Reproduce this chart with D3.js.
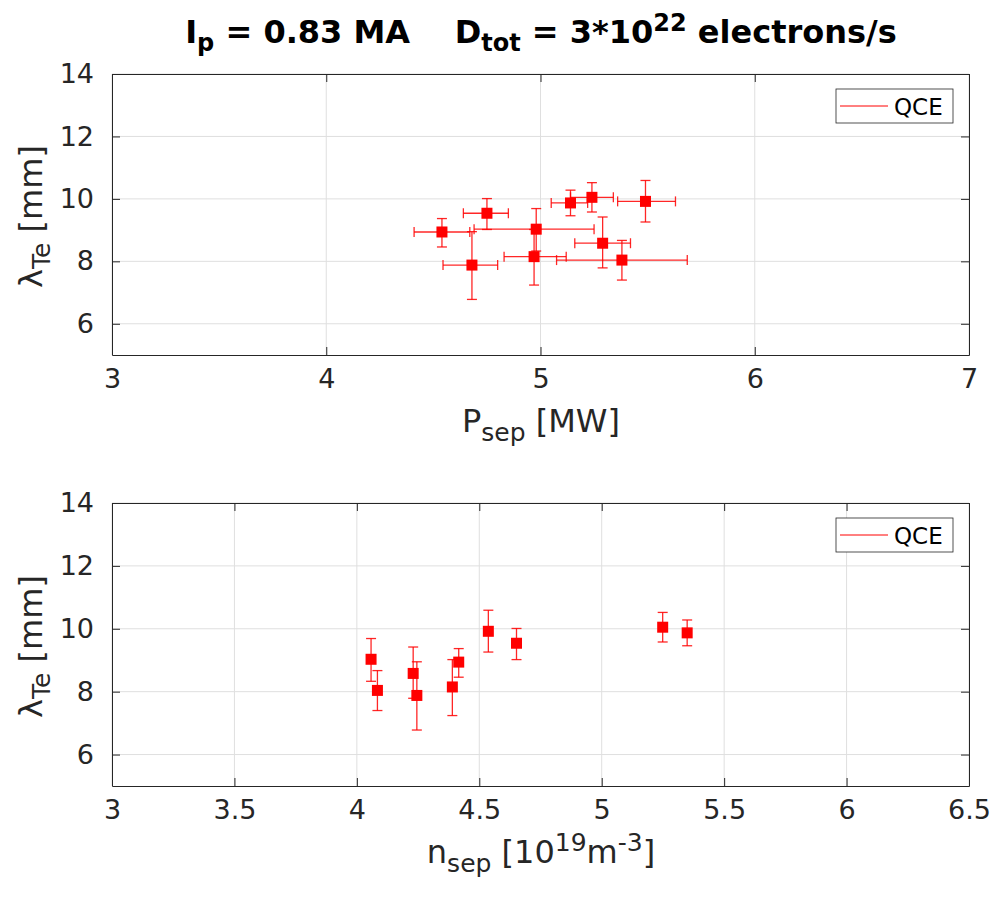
<!DOCTYPE html>
<html>
<head>
<meta charset="utf-8">
<script src="https://cdn.jsdelivr.net/npm/d3@7"></script>
<style>
  body { margin: 0; background: #fff; }
  svg { font-family: "DejaVu Sans", sans-serif; }
  .pre { white-space: pre; }
</style>
</head>
<body>
<div id="chart"></div>
<script>
// 1: DATA
const lamTe  = [8.94, 9.54, 9.03, 8.15, 7.88, 9.87, 10.05, 9.92, 8.58, 8.04];
const lamLo  = [8.46, 9.02, 8.33, 7.24, 6.78, 9.46, 9.58, 9.26, 7.79, 7.40];
const lamHi  = [9.37, 10.01, 9.69, 9.02, 8.95, 10.28, 10.52, 10.59, 9.42, 8.67];
const pSep   = [4.54, 4.75, 4.98, 4.97, 4.68, 5.14, 5.24, 5.49, 5.29, 5.38];
const pSepLo = [4.41, 4.64, 4.69, 4.83, 4.545, 5.05, 5.14, 5.36, 5.16, 5.075];
const pSepHi = [4.67, 4.85, 5.25, 5.12, 4.80, 5.22, 5.34, 5.63, 5.42, 5.685];
const nSep   = [4.416, 4.652, 4.058, 4.39, 4.245, 5.349, 5.249, 4.537, 4.230, 4.084];

const yTicks = [6, 8, 10, 12, 14];
const xTicksTop = [3, 4, 5, 6, 7];
const xTicksBot = [3, 3.5, 4, 4.5, 5, 5.5, 6, 6.5];
const seriesName = "QCE";

// 2: SVG
const W = 1000, H = 899;
const svg = d3.select("#chart").append("svg")
    .attr("width", W).attr("height", H);

const axisCol = "#262626", gridCol = "#dfdfdf", red = "#ff0000";
const labFs = 32, subFs = 25;

// title
const title = svg.append("text")
    .attr("class", "pre")
    .attr("x", 541).attr("y", 43)
    .attr("text-anchor", "middle")
    .style("font-weight", "bold").style("font-size", "32px")
    .attr("fill", "#000");
title.append("tspan").text("I");
title.append("tspan").attr("dy", 8).style("font-size", "24px").text("p");
title.append("tspan").attr("dy", -8).text(" = 0.83 MA    D");
title.append("tspan").attr("dy", 8).style("font-size", "24px").text("tot");
title.append("tspan").attr("dy", -8).text(" = 3*10");
title.append("tspan").attr("dy", -12).style("font-size", "24px").text("22");
title.append("tspan").attr("dy", 12).text(" electrons/s");

function drawPanel(cfg) {
    const x = d3.scaleLinear().domain(cfg.xDomain).range([112, 969]);
    const y = d3.scaleLinear().domain([5, 14]).range([cfg.bottom, cfg.top]);
    const g = svg.append("g");

    // grid
    g.selectAll(".gx").data(cfg.xTicks).enter().append("line")
        .attr("x1", d => x(d)).attr("x2", d => x(d))
        .attr("y1", cfg.top).attr("y2", cfg.bottom)
        .attr("stroke", gridCol).attr("stroke-width", 1);
    g.selectAll(".gy").data(yTicks).enter().append("line")
        .attr("x1", 112).attr("x2", 969)
        .attr("y1", d => y(d)).attr("y2", d => y(d))
        .attr("stroke", gridCol).attr("stroke-width", 1);

    // axes (box on, inward ticks)
    const tl = 8;
    g.append("g").attr("transform", `translate(0,${cfg.bottom})`)
        .call(d3.axisBottom(x).tickValues(cfg.xTicks).tickSizeInner(-tl).tickSizeOuter(0)
            .tickFormat(d3.format("")).tickPadding(14))
        .call(a => styleAxis(a));
    g.append("g").attr("transform", `translate(0,${cfg.top})`)
        .call(d3.axisTop(x).tickValues(cfg.xTicks).tickSizeInner(-tl).tickSizeOuter(0).tickFormat(""))
        .call(a => styleAxis(a));
    g.append("g").attr("transform", "translate(112,0)")
        .call(d3.axisLeft(y).tickValues(yTicks).tickSizeInner(-tl).tickSizeOuter(0).tickPadding(18))
        .call(a => styleAxis(a));
    g.append("g").attr("transform", "translate(969,0)")
        .call(d3.axisRight(y).tickValues(yTicks).tickSizeInner(-tl).tickSizeOuter(0).tickFormat(""))
        .call(a => styleAxis(a));

    // error bars
    const cap = 5;
    const idx = d3.range(lamTe.length);
    const eb = g.append("g").attr("stroke", red).attr("stroke-width", 1.3).attr("stroke-opacity", 0.85);
    idx.forEach(i => {
        const cx = x(cfg.xs[i]), cy = y(lamTe[i]);
        eb.append("line").attr("x1", cx).attr("x2", cx).attr("y1", y(lamLo[i])).attr("y2", y(lamHi[i]));
        [lamLo[i], lamHi[i]].forEach(v => eb.append("line")
            .attr("x1", cx - cap).attr("x2", cx + cap).attr("y1", y(v)).attr("y2", y(v)));
        if (cfg.xLo) {
            eb.append("line").attr("x1", x(cfg.xLo[i])).attr("x2", x(cfg.xHi[i])).attr("y1", cy).attr("y2", cy);
            [cfg.xLo[i], cfg.xHi[i]].forEach(v => eb.append("line")
                .attr("x1", x(v)).attr("x2", x(v)).attr("y1", cy - cap).attr("y2", cy + cap));
        }
    });

    // markers
    const ms = 11;
    g.selectAll(".mk").data(idx).enter().append("rect")
        .attr("x", i => x(cfg.xs[i]) - ms / 2)
        .attr("y", i => y(lamTe[i]) - ms / 2)
        .attr("width", ms).attr("height", ms)
        .attr("fill", red);

    // y label
    const yl = g.append("text")
        .attr("class", "pre")
        .attr("transform", `translate(42,${(cfg.top + cfg.bottom) / 2 + 2}) rotate(-90)`)
        .attr("text-anchor", "middle").style("font-size", labFs + "px").attr("fill", axisCol);
    yl.append("tspan").text("λ");
    yl.append("tspan").attr("dy", 8).style("font-size", subFs + "px").text("Te");
    yl.append("tspan").attr("dy", -8).text(" [mm]");

    // x label
    const xl = g.append("text")
        .attr("class", "pre")
        .attr("x", 541).attr("y", cfg.bottom + 77)
        .attr("text-anchor", "middle").style("font-size", labFs + "px").attr("fill", axisCol);
    cfg.xLabel(xl);

    // legend
    const lg = g.append("g").attr("transform", `translate(836,${cfg.top + 15})`);
    lg.append("rect").attr("width", 117).attr("height", 34)
        .attr("fill", "#fff").attr("stroke", axisCol).attr("stroke-width", 0.8);
    lg.append("line").attr("x1", 4).attr("x2", 52).attr("y1", 17).attr("y2", 17)
        .attr("stroke", red).attr("stroke-width", 1);
    lg.append("text").attr("x", 58).attr("y", 26).style("font-size", "23px")
        .attr("fill", "#000").text(seriesName);
}

function styleAxis(a) {
    a.select(".domain").attr("stroke", axisCol).attr("stroke-width", 1);
    a.selectAll(".tick line").attr("stroke", axisCol).attr("stroke-width", 1);
    a.selectAll(".tick text").attr("fill", axisCol).style("font-size", "27px")
        .style("font-family", "DejaVu Sans, sans-serif");
}

drawPanel({
    xDomain: [3, 7], xTicks: xTicksTop, top: 74, bottom: 355,
    xs: pSep, xLo: pSepLo, xHi: pSepHi,
    xLabel: t => {
        t.append("tspan").text("P");
        t.append("tspan").attr("dy", 9).style("font-size", subFs + "px").text("sep");
        t.append("tspan").attr("dy", -9).text(" [MW]");
    }
});

drawPanel({
    xDomain: [3, 6.5], xTicks: xTicksBot, top: 503, bottom: 786,
    xs: nSep,
    xLabel: t => {
        t.append("tspan").text("n");
        t.append("tspan").attr("dy", 9).style("font-size", subFs + "px").text("sep");
        t.append("tspan").attr("dy", -9).text(" [10");
        t.append("tspan").attr("dy", -12).style("font-size", subFs + "px").text("19");
        t.append("tspan").attr("dy", 12).text("m");
        t.append("tspan").attr("dy", -12).style("font-size", subFs + "px").text("-3");
        t.append("tspan").attr("dy", 12).text("]");
    }
});
</script>
</body>
</html>
